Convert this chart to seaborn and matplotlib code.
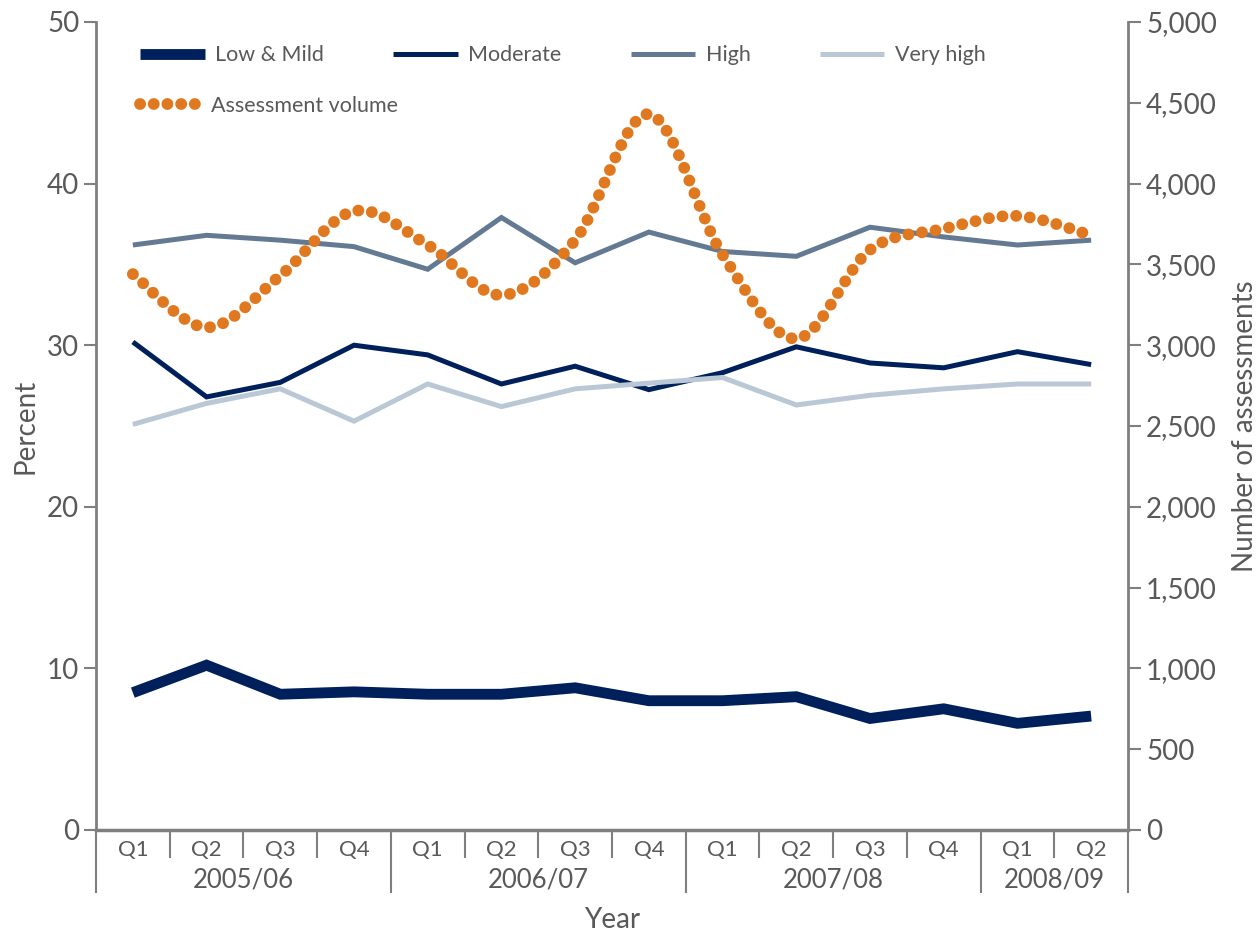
import numpy as np
import pandas as pd
import matplotlib
matplotlib.use("Agg")
import matplotlib.pyplot as plt
import seaborn as sns
from matplotlib.path import Path
from matplotlib.patches import PathPatch
from matplotlib.lines import Line2D
from matplotlib.ticker import FuncFormatter

# ---- data -------------------------------------------------------------
quarters = ["Q1", "Q2", "Q3", "Q4", "Q1", "Q2", "Q3", "Q4",
            "Q1", "Q2", "Q3", "Q4", "Q1", "Q2"]
years = ["2005/06", "2006/07", "2007/08", "2008/09"]
quarters_per_year = [4, 4, 4, 2]

low_mild = [8.5, 10.2, 8.4, 8.55, 8.4, 8.4, 8.8, 8.0, 8.0, 8.25, 6.9, 7.5, 6.6, 7.05]
moderate = [30.2, 26.8, 27.7, 30.0, 29.4, 27.6, 28.7, 27.25, 28.3, 29.9, 28.9, 28.6, 29.6, 28.8]
high = [36.2, 36.8, 36.5, 36.1, 34.7, 37.9, 35.1, 37.0, 35.8, 35.5, 37.3, 36.7, 36.2, 36.5]
very_high = [25.1, 26.4, 27.3, 25.3, 27.6, 26.2, 27.3, 27.65, 28.0, 26.3, 26.9, 27.3, 27.6, 27.6]
assessments = [3440, 3110, 3430, 3830, 3620, 3310, 3650, 4430, 3560, 3040, 3590, 3720, 3800, 3680]

# ---- style ------------------------------------------------------------
sns.set_theme(style="white")
plt.rcParams["font.family"] = ["Lato", "DejaVu Sans"]
TEXT = "#595959"
AXIS = "#7f7f7f"
NAVY = "#00205b"
HIGH = "#647a93"
VHIGH = "#bac8d6"
ORANGE = "#e07820"

fig = plt.figure(figsize=(12.59, 9.33), dpi=100)
ax = fig.add_axes([96 / 1259, 1 - 830 / 933, 1032 / 1259, 808 / 933])
ax2 = ax.twinx()

x = np.arange(len(quarters))
series = [
    ("Low & Mild", low_mild, NAVY, 7.8),
    ("Moderate", moderate, NAVY, 3.6),
    ("High", high, HIGH, 3.6),
    ("Very high", very_high, VHIGH, 3.6),
]
for name, vals, col, lw in series:
    df = pd.DataFrame({"x": x, "pct": vals})
    sns.lineplot(data=df, x="x", y="pct", ax=ax, color=col, linewidth=lw,
                 solid_capstyle="butt", solid_joinstyle="miter", legend=False)

# smoothed assessment volume curve (cubic Bezier through each quarter)
pts = np.column_stack([x, assessments]).astype(float)
ext = np.vstack([pts[0], pts, pts[-1]])
verts = [tuple(pts[0])]
codes = [Path.MOVETO]
for i in range(len(pts) - 1):
    p0, p1, p2, p3 = ext[i], ext[i + 1], ext[i + 2], ext[i + 3]
    c1 = p1 + (p2 - p0) / 6.0
    c2 = p2 - (p3 - p1) / 6.0
    verts += [tuple(c1), tuple(c2), tuple(p2)]
    codes += [Path.CURVE4] * 3
dotted = (0, (0.01, 1.15))
curve = PathPatch(Path(verts, codes), fill=False, edgecolor=ORANGE, linewidth=8.5,
                  linestyle=dotted, capstyle="round", zorder=3)
ax2.add_patch(curve)

# ---- axes -------------------------------------------------------------
ax.set_xlim(-0.5, len(quarters) - 0.5)
ax.set_ylim(0, 50)
ax2.set_ylim(0, 5000)
ax.set_yticks(range(0, 51, 10))
ax2.set_yticks(range(0, 5001, 500))
ax2.yaxis.set_major_formatter(FuncFormatter(lambda v, p: f"{int(v):,}"))

for a in (ax, ax2):
    for s in a.spines.values():
        s.set_visible(False)
ax.spines["left"].set_visible(True)
ax.spines["left"].set_color(AXIS)
ax.spines["left"].set_linewidth(2)
ax.spines["bottom"].set_visible(True)
ax.spines["bottom"].set_color(AXIS)
ax.spines["bottom"].set_linewidth(2.5)
ax2.spines["right"].set_visible(True)
ax2.spines["right"].set_color(AXIS)
ax2.spines["right"].set_linewidth(2)

ax.tick_params(axis="y", left=True, length=9, width=1.5, color=AXIS,
               labelsize=20, labelcolor=TEXT, pad=3)
ax2.tick_params(axis="y", right=True, length=9, width=1.5, color=AXIS,
                labelsize=20, labelcolor=TEXT, pad=4)
ax.set_xticks(x)
ax.set_xticklabels(quarters)
ax.tick_params(axis="x", bottom=True, length=0, labelsize=16,
               labelcolor=TEXT, pad=7)

ax.set_ylabel("Percent", fontsize=20, color=TEXT)
ax.yaxis.set_label_coords(-0.056, 0.5)
ax2.set_ylabel("Number of assessments", fontsize=20, color=TEXT)
ax2.yaxis.set_label_coords(1.101, 0.5)
ax.set_xlabel("Year", fontsize=20, color=TEXT)
ax.xaxis.set_label_coords(0.5, -0.095)

# grouped category axis: quarter dividers, year dividers and year labels
trans = ax.get_xaxis_transform()
short = -28 / 808
long_ = -63 / 808
bounds = np.cumsum([0] + quarters_per_year) - 0.5
for b in np.arange(-0.5, len(quarters), 1.0):
    depth = long_ if np.any(np.isclose(bounds, b)) else short
    ax.plot([b, b], [0, depth], transform=trans, color=AXIS, lw=1.5,
            clip_on=False, solid_capstyle="butt")
for yr, start, n in zip(years, bounds[:-1], quarters_per_year):
    ax.text(start + n / 2, -50 / 808, yr, transform=trans, ha="center",
            va="center", fontsize=18.5, color=TEXT)

# ---- legend -----------------------------------------------------------
handles = [Line2D([], [], color=c, lw=lw, solid_capstyle="butt") for _, _, c, lw in series]
leg1 = ax2.legend(handles, [s[0] for s in series], ncol=4, frameon=False,
                  loc="center left", bbox_to_anchor=(44 / 1032, 0.959),
                  borderaxespad=0, borderpad=0, handlelength=3.0,
                  handletextpad=0.5, columnspacing=3.2, fontsize=15.5,
                  labelcolor=TEXT)
ax2.add_artist(leg1)
dot_handle = Line2D([], [], color=ORANGE, lw=8.5, linestyle=dotted,
                    dash_capstyle="round")
ax2.legend([dot_handle], ["Assessment volume"], frameon=False,
           loc="center left", bbox_to_anchor=(44 / 1032, 0.896),
           borderaxespad=0, borderpad=0, handlelength=3.0,
           handletextpad=0.3, fontsize=15.5, labelcolor=TEXT)

fig.savefig("out.png", dpi=100)
